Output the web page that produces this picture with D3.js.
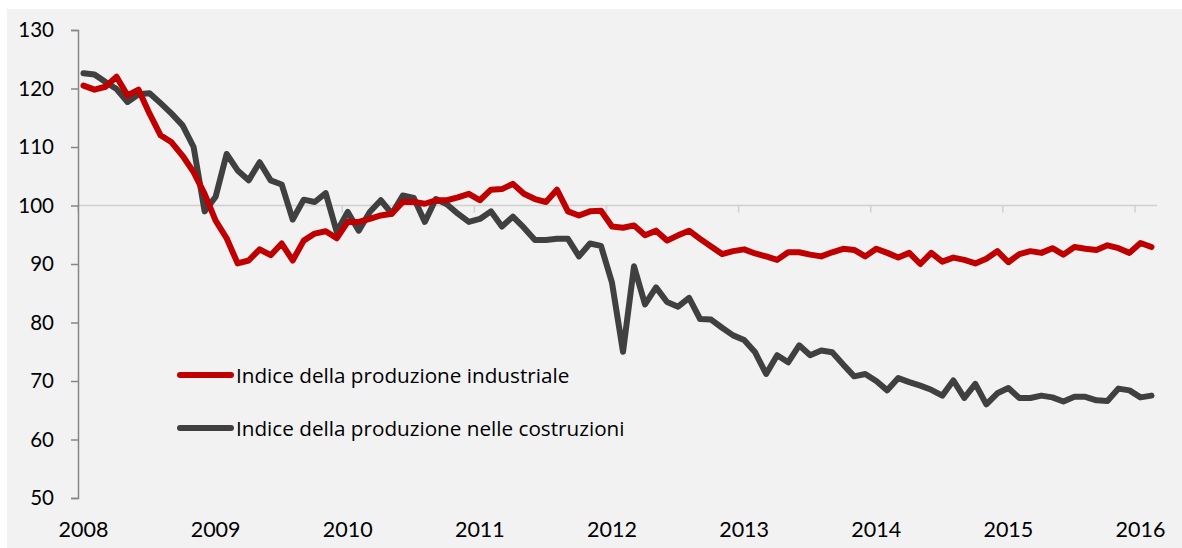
<html>
<head>
<meta charset="utf-8">
<script src="https://d3js.org/d3.v7.min.js"></script>
<style>
  body { margin: 0; background: #fff; }
  text { font-family: Lato, "Open Sans", sans-serif; fill: #000; }
  .serie { fill: none; stroke-width: 6px; stroke-linejoin: round; stroke-linecap: round; }
  .legenda { font-family: "Open Sans", Lato, sans-serif; font-size: 20.7px; }
</style>
</head>
<body>
<script>
// tick labels
var years = ["2008", "2009", "2010", "2011", "2012", "2013", "2014", "2015", "2016"];
var yTicks = [50, 60, 70, 80, 90, 100, 110, 120, 130];

// monthly values, Jan 2008 - Feb 2016
var industriale = [120.5, 119.8, 120.3, 122.0, 118.8, 119.8, 115.7, 112.0, 110.8, 108.5, 105.7, 102.0,
  97.4, 94.4, 90.1, 90.6, 92.5, 91.5, 93.5, 90.6, 94.0, 95.2, 95.6, 94.4,
  97.2, 97.2, 97.7, 98.3, 98.6, 100.6, 100.6, 100.3, 100.9, 100.9, 101.4, 102.0,
  100.9, 102.7, 102.8, 103.7, 102.0, 101.1, 100.6, 102.7, 99.0, 98.3, 99.0, 99.1,
  96.4, 96.2, 96.6, 94.9, 95.7, 94.0, 94.9, 95.7, 94.3, 93.0, 91.7, 92.2,
  92.5, 91.8, 91.3, 90.7, 92.0, 92.0, 91.6, 91.3, 92.0, 92.6, 92.4, 91.3,
  92.6, 91.9, 91.1, 91.9, 90.0, 91.9, 90.4, 91.1, 90.7, 90.1, 90.9, 92.2,
  90.3, 91.7, 92.2, 91.9, 92.7, 91.6, 92.9, 92.6, 92.4, 93.2, 92.7, 91.9,
  93.6, 92.9];

var costruzioni = [122.6, 122.4, 121.1, 119.9, 117.7, 119.0, 119.2, 117.5, 115.7, 113.7, 110.0, 99.0,
  101.5, 108.8, 106.0, 104.3, 107.4, 104.3, 103.6, 97.6, 101.0, 100.6, 102.1, 95.5,
  98.9, 95.7, 98.9, 100.9, 98.6, 101.7, 101.3, 97.2, 101.1, 100.2, 98.6, 97.2,
  97.7, 99.0, 96.4, 98.1, 96.2, 94.1, 94.1, 94.3, 94.3, 91.3, 93.5, 93.1,
  86.8, 75.0, 89.6, 83.1, 86.0, 83.5, 82.7, 84.2, 80.6, 80.5, 79.1, 77.8,
  77.0, 74.9, 71.2, 74.4, 73.2, 76.1, 74.4, 75.2, 74.9, 72.8, 70.8, 71.2,
  70.0, 68.4, 70.5, 69.8, 69.2, 68.5, 67.5, 70.1, 67.1, 69.5, 66.0, 67.9,
  68.8, 67.1, 67.1, 67.5, 67.2, 66.5, 67.3, 67.3, 66.7, 66.6, 68.7, 68.4,
  67.2, 67.5];

var series = [
  { name: "Indice della produzione industriale", values: industriale, color: "#c00000", ly: 375 },
  { name: "Indice della produzione nelle costruzioni", values: costruzioni, color: "#404040", ly: 428 }
];

var W = 1182, H = 548;
var months = d3.range(industriale.length);

var svg = d3.select("body").append("svg")
  .attr("width", W)
  .attr("height", H);

// chart area background
svg.append("rect")
  .attr("x", 7).attr("y", 9)
  .attr("width", W - 7).attr("height", H - 9)
  .attr("fill", "#f2f2f2");

var x = d3.scaleBand().domain(months).range([78, 1157]);
var y = d3.scaleLinear().domain([50, 130]).range([498, 30]);

// category axis sits at 100
var xAxis = svg.append("g");
xAxis.append("line")
  .attr("x1", 78).attr("x2", 1157)
  .attr("y1", y(100)).attr("y2", y(100))
  .attr("stroke", "#d0d0d0").attr("stroke-width", 1.5);
xAxis.selectAll(".tk")
  .data(years)
  .enter().append("line")
  .attr("x1", function (d, i) { return x(i * 12); })
  .attr("x2", function (d, i) { return x(i * 12); })
  .attr("y1", y(100)).attr("y2", y(100) + 7)
  .attr("stroke", "#d0d0d0").attr("stroke-width", 1.5);

// year labels at the bottom
svg.selectAll(".yr")
  .data(years)
  .enter().append("text")
  .attr("x", function (d, i) { return x(i * 12) + x.bandwidth() / 2; })
  .attr("y", 537)
  .attr("text-anchor", "middle")
  .style("font-size", "21.5px")
  .text(function (d) { return d; });

// value axis
var yAxis = svg.append("g")
  .attr("transform", "translate(78,0)")
  .call(d3.axisLeft(y).tickValues(yTicks).tickSize(7).tickPadding(17));
yAxis.select(".domain").attr("stroke", "#868686").attr("stroke-width", 1.5);
yAxis.selectAll(".tick line").attr("stroke", "#868686").attr("stroke-width", 1.5);
yAxis.selectAll(".tick text")
  .style("font-size", "20.5px")
  .attr("fill", "#000")
  .style("font-family", "Lato, 'Open Sans', sans-serif");

// lines
var line = d3.line()
  .x(function (d, i) { return x(i) + x.bandwidth() / 2; })
  .y(function (d) { return y(d); });

series.slice().reverse().forEach(function (s) {
  svg.append("path")
    .datum(s.values)
    .attr("class", "serie")
    .attr("stroke", s.color)
    .attr("d", line);
});

// legend
series.forEach(function (s) {
  svg.append("line")
    .attr("x1", 180).attr("x2", 231)
    .attr("y1", s.ly).attr("y2", s.ly)
    .attr("stroke", s.color).attr("stroke-width", 6)
    .attr("stroke-linecap", "round");
  svg.append("text")
    .attr("class", "legenda")
    .attr("x", 236).attr("y", s.ly + 8)
    .text(s.name);
});
</script>
</body>
</html>
